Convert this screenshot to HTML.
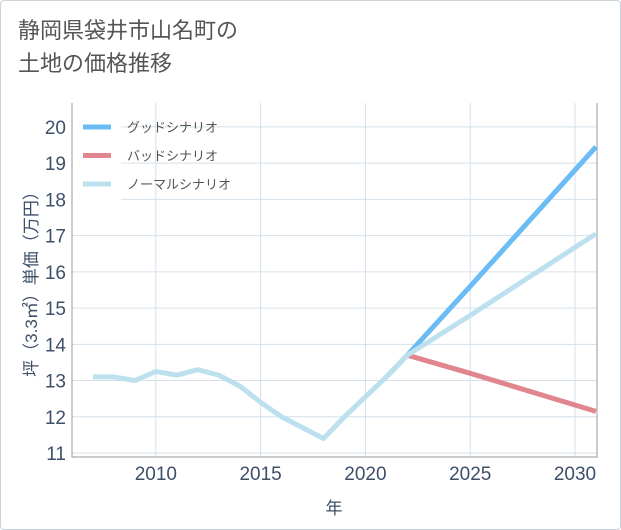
<!DOCTYPE html>
<html><head><meta charset="utf-8"><style>
body{margin:0;background:#fff;font-family:"Liberation Sans","Noto Sans CJK JP",sans-serif;}
#wrap{position:relative;width:621px;height:530px;}
#frame{position:absolute;left:0;top:0;width:619px;height:528px;border:1px solid #ccd3db;border-radius:4px;}
#title{position:absolute;left:18px;top:14px;font-size:22px;line-height:33px;color:#555;}
svg{position:absolute;left:0;top:0;}
</style></head><body>
<div id="wrap">
<div id="frame"></div>
<div id="title">静岡県袋井市山名町の<br>土地の価格推移</div>
<svg id="chart" width="621" height="530"></svg>
</div>
<script>
const years=[2007,2008,2009,2010,2011,2012,2013,2014,2015,2016,2017,2018,2019,2020,2021,2022];
const normalHist=[13.1,13.1,13.0,13.25,13.15,13.3,13.15,12.85,12.4,12.0,11.7,11.4,12.0,12.55,13.1,13.7];
const futYears=[2021,2022,2025,2031];
const goodVals=[13.1,13.7,15.6,19.45];
const badVals=[13.1,13.7,13.2,12.15];
const normVals=[13.1,13.7,14.8,17.05];
const yTicks=[11,12,13,14,15,16,17,18,19,20];
const xTicks=[2010,2015,2020,2025,2030];
const L=72,R=597,T=103,B=457,x0=2006,x1=2031.05,y0=10.89,y1=20.66;
const X=v=>L+(v-x0)/(x1-x0)*(R-L);
const Y=v=>B-(v-y0)/(y1-y0)*(B-T);
const svg=document.getElementById('chart');
const NS='http://www.w3.org/2000/svg';
function mk(t,a,p){const e=document.createElementNS(NS,t);for(const k in a)e.setAttribute(k,a[k]);(p||svg).appendChild(e);return e;}
mk('rect',{x:L,y:T,width:R-L,height:B-T,fill:'#fff'});
yTicks.forEach(v=>{const l=mk('line',{x1:L,x2:R,y1:Y(v),y2:Y(v),stroke:'#d5e0ea','stroke-width':1});

const t=mk('text',{x:L-6,y:Y(v)+7,'text-anchor':'end','font-size':19,fill:'#3d5068'});t.textContent=v;
});
xTicks.forEach(v=>{const l=mk('line',{x1:X(v),x2:X(v),y1:T,y2:B,stroke:'#d5e0ea','stroke-width':1});

const t=mk('text',{x:X(v),y:B+23,'text-anchor':'middle','font-size':19,fill:'#3d5068'});t.textContent=v;
});
const ax=mk('path',{d:`M${L},${T}V${B}H${R}V${T}`,fill:'none',stroke:'#999','stroke-width':1});

function line(xs,ys,c,name){const p=mk('polyline',{points:xs.map((x,i)=>X(x)+','+Y(ys[i])).join(' '),fill:'none',stroke:c,'stroke-width':5,'stroke-linejoin':'round'});
}
line(futYears,badVals,'#e0868f','bad-scenario-line');
line(futYears,goodVals,'#6bbcf5','good-scenario-line');
line(futYears,normVals,'#bde0ef','normal-scenario-line');
line(years,normalHist,'#bde0ef','historical-line');
const lg=mk('rect',{x:L+1,y:110,width:48,height:92,fill:'#fff'});

[['グッドシナリオ','#6bbcf5'],['バッドシナリオ','#e0868f'],['ノーマルシナリオ','#bde0ef']].forEach((d,i)=>{
const y=127+i*28.5;
const s=mk('line',{x1:83,x2:111,y1:y,y2:y,stroke:d[1],'stroke-width':5});

const t=mk('text',{x:127,y:y+5,'font-size':13,fill:'#555'});t.textContent=d[0];
});
const yt=mk('text',{transform:'translate(37,280) rotate(-90)','text-anchor':'middle','font-size':17,fill:'#3d5068'});yt.textContent='坪（3.3㎡）単価（万円）';

const xt=mk('text',{x:334,y:514,'text-anchor':'middle','font-size':17,fill:'#3d5068'});xt.textContent='年';

</script>
</body></html>
